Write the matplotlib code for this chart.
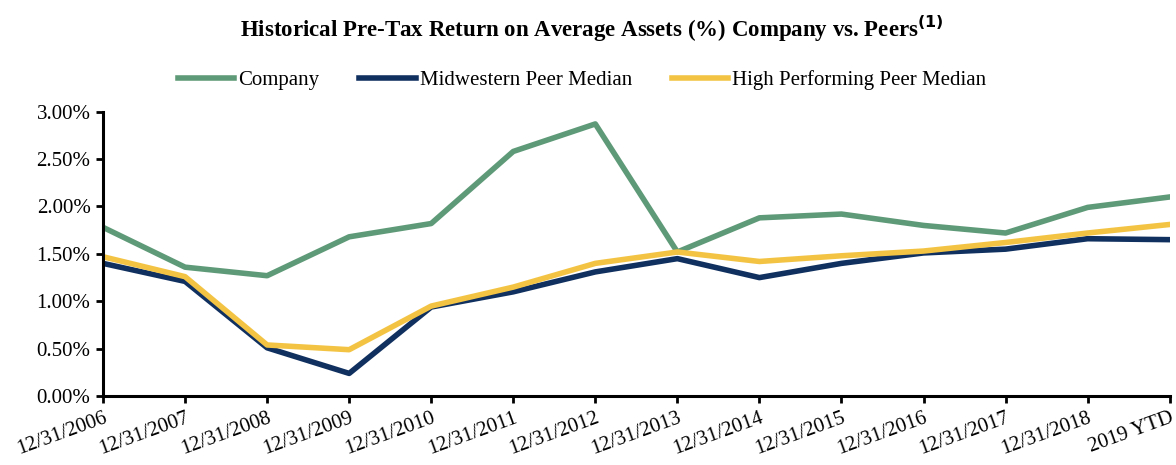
import matplotlib.pyplot as plt
import numpy as np

plt.rcParams['font.family'] = ['Liberation Serif', 'DejaVu Serif']

# x-axis categories
periods = ['12/31/2006', '12/31/2007', '12/31/2008', '12/31/2009', '12/31/2010',
           '12/31/2011', '12/31/2012', '12/31/2013', '12/31/2014', '12/31/2015',
           '12/31/2016', '12/31/2017', '12/31/2018', '2019 YTD']

# pre-tax ROAA, percent
company = [1.78, 1.36, 1.27, 1.68, 1.82, 2.58, 2.87, 1.52, 1.88, 1.92, 1.80, 1.72, 1.99, 2.10]
midwest_peers = [1.40, 1.21, 0.51, 0.24, 0.94, 1.10, 1.31, 1.45, 1.25, 1.40, 1.51, 1.55, 1.66, 1.65]
high_perf_peers = [1.47, 1.26, 0.54, 0.49, 0.95, 1.15, 1.40, 1.52, 1.42, 1.48, 1.53, 1.62, 1.72, 1.81]

fig = plt.figure(figsize=(11.76, 4.65), dpi=100)
ax = fig.add_axes([0.0876, 0.148, 0.907, 0.612])

x = np.arange(len(periods))
ax.plot(x, company, color='#5f9a78', lw=4, label='Company')
ax.plot(x, midwest_peers, color='#10305f', lw=4, label='Midwestern Peer Median')
ax.plot(x, high_perf_peers, color='#f3c444', lw=4, label='High Performing Peer Median')

ax.set_xlim(0, len(periods) - 1)
ax.set_ylim(0, 3)
yt = np.arange(0, 3.01, 0.5)
ax.set_yticks(yt)
ax.set_yticklabels(['{:.2f}%'.format(v) for v in yt], fontsize=15)
ax.set_xticks(x)
ax.set_xticklabels(periods, rotation=20, ha='right', rotation_mode='anchor', fontsize=15)

for s in ['top', 'right']:
    ax.spines[s].set_visible(False)
for s in ['left', 'bottom']:
    ax.spines[s].set_linewidth(2.2)
ax.tick_params(direction='out', length=5, width=2, pad=4)

fig.text(0.503, 0.938, r'Historical Pre-Tax Return on Average Assets (%) Company vs. Peers$^{\mathbf{(1)}}$',
         ha='center', va='center', fontsize=16.5, fontweight='bold')
fig.legend(loc='center', bbox_to_anchor=(0.495, 0.828), ncol=3, frameon=False,
           fontsize=15, handlelength=2.7, handletextpad=0.2, columnspacing=1.9)

fig.savefig('out.png', dpi=100)
